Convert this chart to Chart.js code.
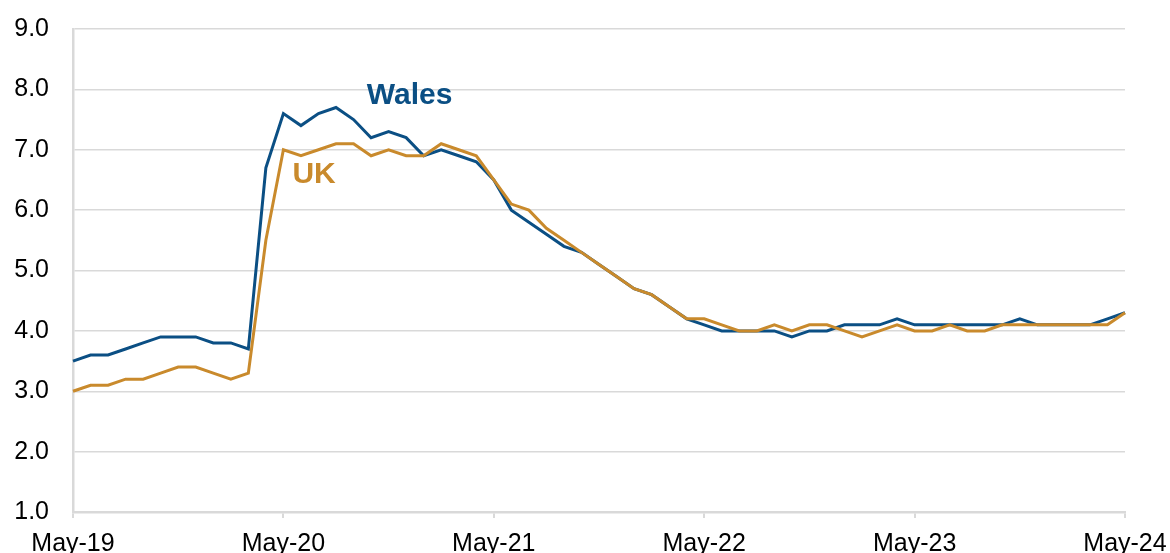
<!DOCTYPE html>
<html>
<head>
<meta charset="utf-8">
<script src="https://cdn.jsdelivr.net/npm/chart.js@4"></script>
<style>
  html, body { margin: 0; padding: 0; background: #fff; }
  #wrap { width: 1170px; height: 553px; }
</style>
</head>
<body>
<div id="wrap"><canvas id="myChart" width="1170" height="553"></canvas></div>
<script>
// Monthly labels, May-19 to May-24
const months = [
  'May-19','Jun-19','Jul-19','Aug-19','Sep-19','Oct-19','Nov-19','Dec-19','Jan-20','Feb-20','Mar-20','Apr-20',
  'May-20','Jun-20','Jul-20','Aug-20','Sep-20','Oct-20','Nov-20','Dec-20','Jan-21','Feb-21','Mar-21','Apr-21',
  'May-21','Jun-21','Jul-21','Aug-21','Sep-21','Oct-21','Nov-21','Dec-21','Jan-22','Feb-22','Mar-22','Apr-22',
  'May-22','Jun-22','Jul-22','Aug-22','Sep-22','Oct-22','Nov-22','Dec-22','Jan-23','Feb-23','Mar-23','Apr-23',
  'May-23','Jun-23','Jul-23','Aug-23','Sep-23','Oct-23','Nov-23','Dec-23','Jan-24','Feb-24','Mar-24','Apr-24',
  'May-24'
];

// Series values
const wales = [
  3.5, 3.6, 3.6, 3.7, 3.8, 3.9, 3.9, 3.9, 3.8, 3.8, 3.7, 6.7,
  7.6, 7.4, 7.6, 7.7, 7.5, 7.2, 7.3, 7.2, 6.9, 7.0, 6.9, 6.8,
  6.5, 6.0, 5.8, 5.6, 5.4, 5.3, 5.1, 4.9, 4.7, 4.6, 4.4, 4.2,
  4.1, 4.0, 4.0, 4.0, 4.0, 3.9, 4.0, 4.0, 4.1, 4.1, 4.1, 4.2,
  4.1, 4.1, 4.1, 4.1, 4.1, 4.1, 4.2, 4.1, 4.1, 4.1, 4.1, 4.2,
  4.3
];
const uk = [
  3.0, 3.1, 3.1, 3.2, 3.2, 3.3, 3.4, 3.4, 3.3, 3.2, 3.3, 5.5,
  7.0, 6.9, 7.0, 7.1, 7.1, 6.9, 7.0, 6.9, 6.9, 7.1, 7.0, 6.9,
  6.5, 6.1, 6.0, 5.7, 5.5, 5.3, 5.1, 4.9, 4.7, 4.6, 4.4, 4.2,
  4.2, 4.1, 4.0, 4.0, 4.1, 4.0, 4.1, 4.1, 4.0, 3.9, 4.0, 4.1,
  4.0, 4.0, 4.1, 4.0, 4.0, 4.1, 4.1, 4.1, 4.1, 4.1, 4.1, 4.1,
  4.3
];

// Axis settings
const yMin = 1, yMax = 9, yStep = 1;
const labelEvery = 12;

const walesColor = '#0B4F84';
const ukColor = '#C98A2C';
const gridColor = '#d9d9d9';
const fontFamily = '"Liberation Sans", Arial, sans-serif';

// Series name labels placed next to the lines (index, value)
const seriesLabels = [
  { text: 'Wales', index: 19.2, value: 7.9, color: walesColor },
  { text: 'UK', index: 13.75, value: 6.58, color: ukColor }
];

const labelPlugin = {
  id: 'seriesLabels',
  afterDatasetsDraw(chart) {
    const ctx = chart.ctx;
    const xs = chart.scales.x, ys = chart.scales.y;
    ctx.save();
    ctx.font = 'bold 30px ' + fontFamily;
    ctx.textAlign = 'center';
    ctx.textBaseline = 'middle';
    seriesLabels.forEach(function(l) {
      const x0 = xs.getPixelForValue(Math.floor(l.index));
      const x1 = xs.getPixelForValue(Math.floor(l.index) + 1);
      const x = x0 + (x1 - x0) * (l.index - Math.floor(l.index));
      ctx.fillStyle = l.color;
      ctx.fillText(l.text, x, ys.getPixelForValue(l.value));
    });
    ctx.restore();
  }
};

const ctx = document.getElementById('myChart').getContext('2d');
const myChart = new Chart(ctx, {
  type: 'line',
  data: {
    labels: months,
    datasets: [
      { label: 'UK', data: uk, borderColor: ukColor, borderWidth: 3, pointRadius: 0, tension: 0 },
      { label: 'Wales', data: wales, borderColor: walesColor, borderWidth: 3, pointRadius: 0, tension: 0 }
    ]
  },
  options: {
    responsive: false,
    animation: false,
    layout: { padding: { top: 29, right: 45, left: 0, bottom: 0 } },
    plugins: {
      legend: { display: false },
      tooltip: { enabled: false }
    },
    scales: {
      x: {
        offset: false,
        grid: { drawOnChartArea: false, drawTicks: true, tickLength: 6, color: gridColor, lineWidth: 2 },
        border: { display: true, color: gridColor, width: 2.5 },
        ticks: {
          autoSkip: false,
          maxRotation: 0,
          padding: 11,
          color: '#000',
          font: { family: fontFamily, size: 25 },
          callback: function(value, index) {
            return index % labelEvery === 0 ? months[index] : null;
          }
        },
        afterFit: function(scale) {
          scale.height = 41;
          scale.paddingLeft = 0;
          scale.paddingRight = 0;
        }
      },
      y: {
        min: yMin,
        max: yMax,
        grid: { color: gridColor, lineWidth: 1.5, drawTicks: false },
        border: { display: true, color: gridColor, width: 2.5 },
        ticks: {
          stepSize: yStep,
          padding: 24,
          color: '#000',
          font: { family: fontFamily, size: 25 },
          callback: function(v) { return v.toFixed(1); }
        },
        afterFit: function(scale) {
          scale.width = 73;
          scale.paddingTop = 0;
          scale.paddingBottom = 0;
        }
      }
    }
  },
  plugins: [labelPlugin]
});
</script>
</body>
</html>
